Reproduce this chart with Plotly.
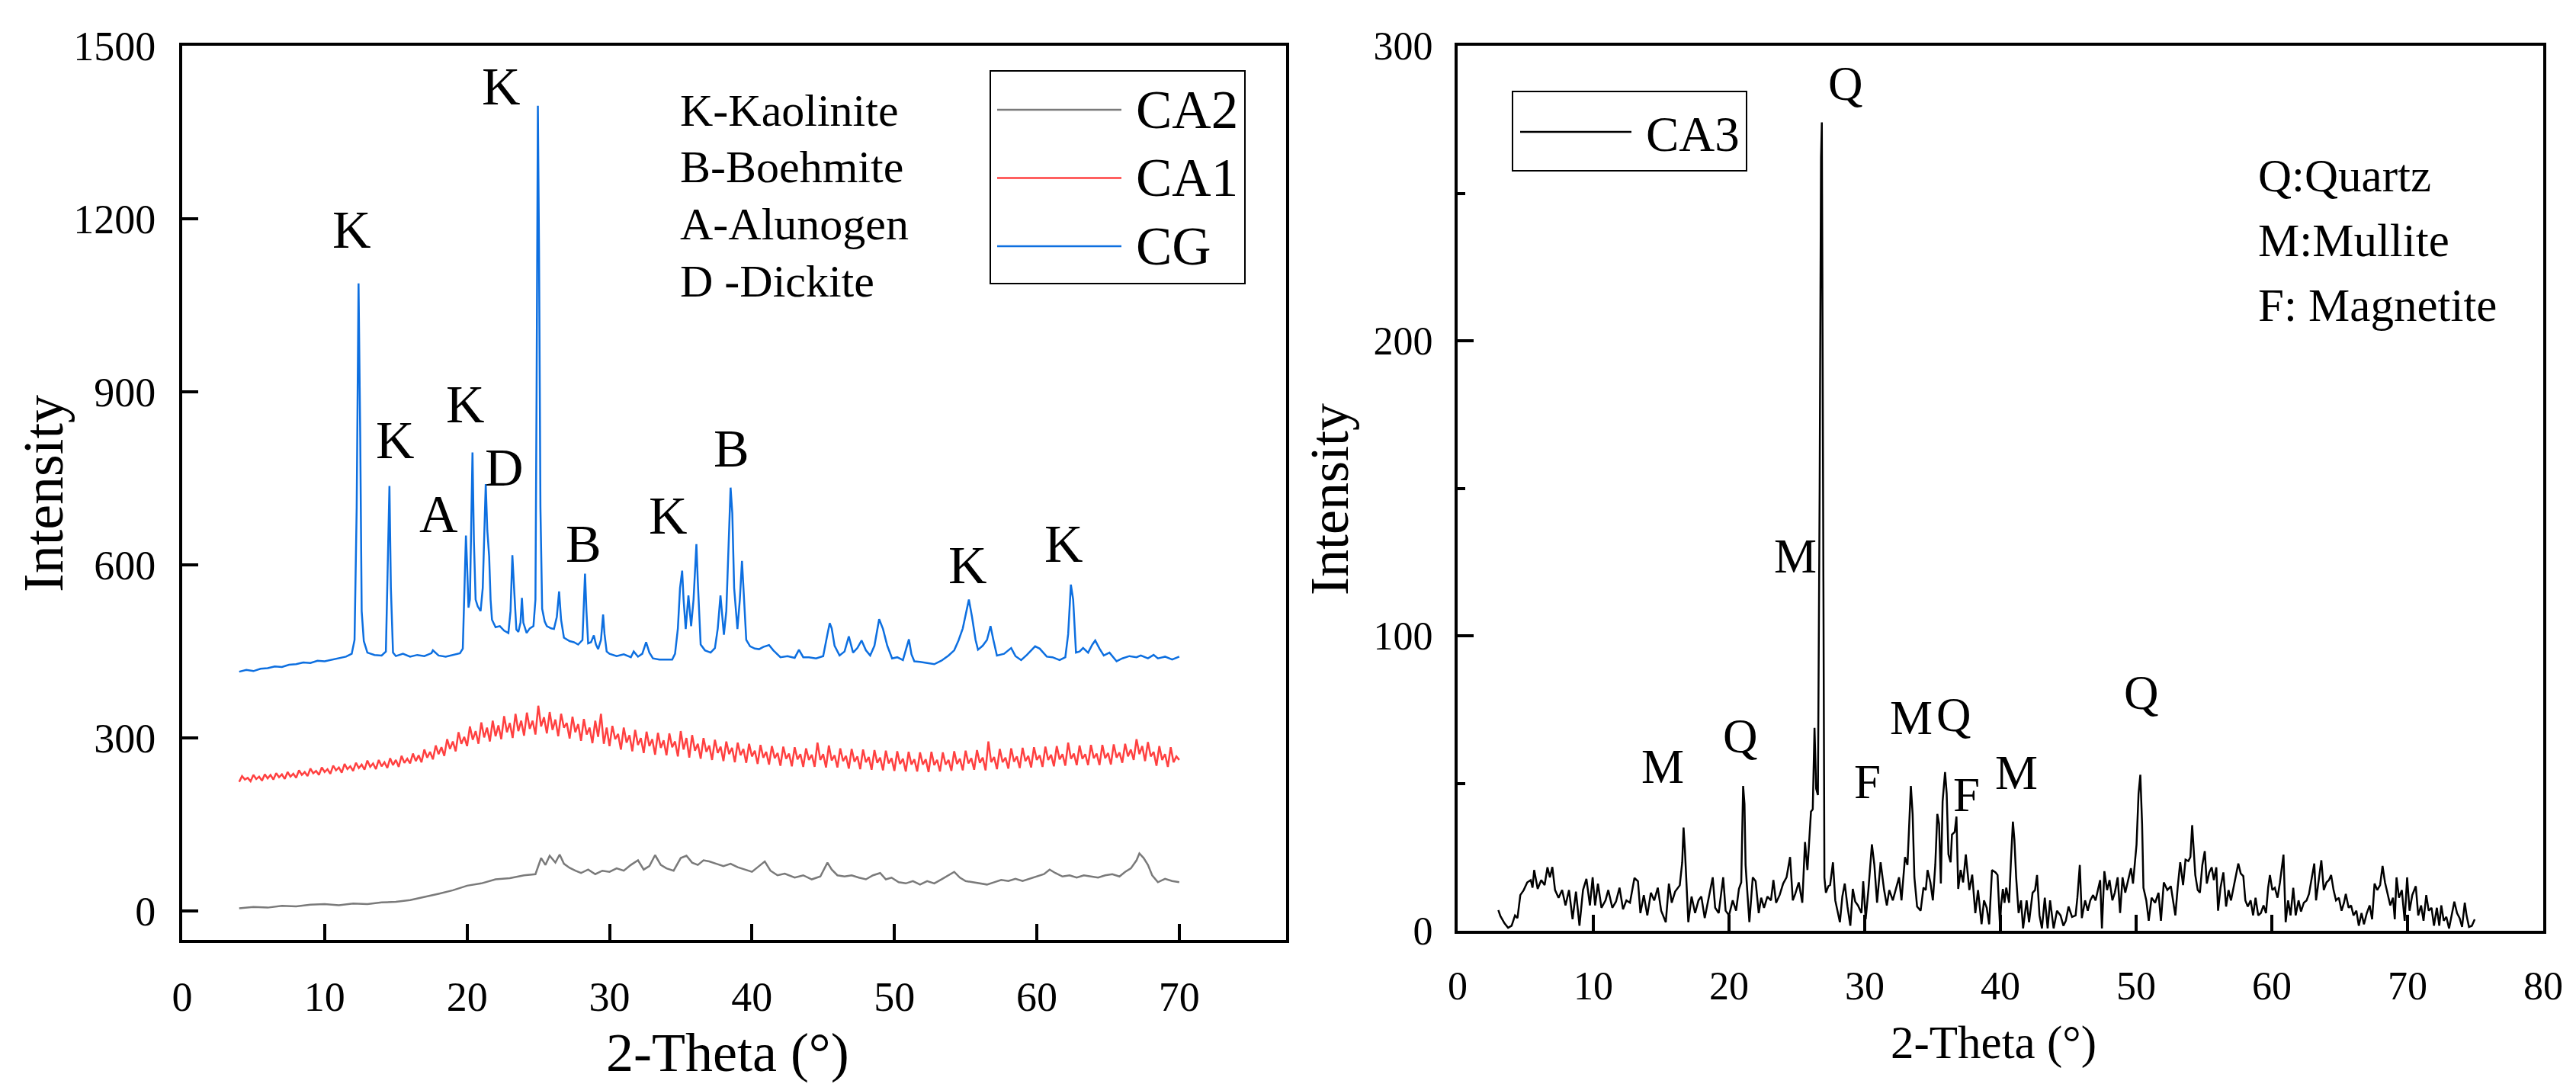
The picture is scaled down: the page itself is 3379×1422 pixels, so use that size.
import numpy as np
import plotly.graph_objects as go

# ---------------- data ----------------
# left panel: CG (blue), CA1 (red), CA2 (grey)
cg_xy = [
    (4.0, 415), (4.5, 418), (5.0, 416), (5.5, 420), (6.0, 421), (6.5, 424), (7.0, 423), (7.5, 427),
    (8.0, 428), (8.5, 431), (9.0, 430), (9.5, 434), (10.0, 433), (10.5, 436), (11.0, 438), (11.5, 441),
    (11.9, 446), (12.1, 470), (12.25, 700), (12.38, 1088), (12.5, 820), (12.6, 520), (12.75, 468),
    (13.0, 448), (13.5, 444), (14.0, 443), (14.3, 450), (14.45, 600), (14.55, 737), (14.65, 560),
    (14.8, 448), (15.0, 442), (15.5, 446), (16.0, 441), (16.5, 444), (17.0, 442), (17.5, 447),
    (17.6, 452), (18.0, 443), (18.5, 441), (19.0, 444), (19.5, 447), (19.7, 455), (19.8, 560),
    (19.92, 651), (20.0, 600), (20.1, 526), (20.2, 540), (20.3, 700), (20.38, 795), (20.48, 640),
    (20.6, 540), (20.75, 528), (20.95, 520), (21.1, 560), (21.25, 700), (21.31, 740), (21.42, 660),
    (21.55, 615), (21.65, 540), (21.75, 505), (22.0, 492), (22.3, 494), (22.6, 486), (22.9, 482),
    (23.05, 520), (23.18, 617), (23.3, 560), (23.46, 488), (23.6, 484), (23.75, 500), (23.85, 543),
    (23.95, 500), (24.18, 482), (24.4, 490), (24.66, 494), (24.8, 540), (24.88, 900), (24.97, 1396),
    (25.05, 1150), (25.15, 700), (25.27, 524), (25.45, 502), (25.6, 494), (25.9, 490), (26.1, 489),
    (26.3, 510), (26.46, 554), (26.6, 505), (26.8, 474), (27.2, 468), (27.5, 466), (27.8, 462),
    (28.1, 470), (28.2, 540), (28.28, 585), (28.38, 520), (28.5, 464), (28.7, 466), (28.9, 478),
    (29.05, 462), (29.2, 454), (29.4, 470), (29.55, 514), (29.65, 480), (29.8, 450), (30.0, 446),
    (30.5, 442), (31.0, 445), (31.5, 440), (31.7, 450), (32.0, 441), (32.3, 446), (32.57, 466),
    (32.8, 448), (33.05, 438), (33.5, 436), (34.0, 436), (34.4, 436), (34.6, 446), (34.8, 490),
    (34.95, 560), (35.1, 590), (35.2, 540), (35.35, 489), (35.54, 547), (35.73, 494), (35.9, 540),
    (36.02, 610), (36.1, 636), (36.2, 570), (36.4, 462), (36.7, 452), (37.1, 448), (37.4, 456),
    (37.6, 490), (37.79, 547), (37.9, 510), (38.03, 479), (38.2, 520), (38.35, 640), (38.5, 734),
    (38.62, 690), (38.75, 560), (38.98, 489), (39.15, 540), (39.3, 607), (39.45, 540), (39.6, 470),
    (39.87, 459), (40.2, 455), (40.5, 454), (40.8, 458), (41.2, 461), (41.5, 452), (42.0, 440),
    (42.5, 442), (43.0, 439), (43.3, 453), (43.6, 440), (44.0, 440), (44.5, 438), (45.0, 442),
    (45.3, 480), (45.46, 499), (45.6, 490), (45.8, 460), (46.15, 443), (46.5, 450), (46.8, 476),
    (47.1, 448), (47.4, 456), (47.7, 469), (48.0, 452), (48.3, 443), (48.6, 460), (48.93, 506),
    (49.2, 489), (49.5, 460), (49.84, 438), (50.2, 440), (50.6, 435), (50.85, 455), (51.02, 471),
    (51.2, 445), (51.4, 433), (51.8, 432), (52.3, 430), (52.8, 428), (53.3, 434), (53.8, 443),
    (54.2, 452), (54.5, 469), (54.8, 490), (55.0, 515), (55.23, 540), (55.45, 510), (55.7, 470),
    (55.87, 453), (56.2, 460), (56.5, 470), (56.75, 494), (56.95, 470), (57.2, 443), (57.7, 446),
    (58.2, 456), (58.5, 442), (58.9, 435), (59.3, 444), (59.6, 452), (59.88, 459), (60.2, 455),
    (60.7, 441), (61.1, 440), (61.6, 435), (62.0, 440), (62.2, 480), (62.39, 566), (62.55, 540),
    (62.75, 448), (63.0, 450), (63.25, 456), (63.6, 448), (63.9, 462), (64.1, 469), (64.4, 455),
    (64.7, 443), (65.1, 448), (65.6, 433), (66.0, 438), (66.5, 442), (67.0, 440), (67.3, 443),
    (67.8, 438), (68.2, 444), (68.5, 438), (69.0, 441), (69.5, 436), (70.0, 441),
]

# CA1 sampled every 0.2 degree from 4.0 to 70.0
ca1_x = np.round(np.arange(4.0, 70.001, 0.2), 1)
ca1_y = [
    224, 234, 228, 231, 225, 236, 229, 233, 226, 237,
    230, 236, 228, 239, 232, 237, 229, 241, 233, 238,
    231, 244, 236, 241, 234, 247, 239, 243, 236, 249,
    241, 246, 238, 252, 244, 249, 240, 255, 246, 251,
    243, 257, 248, 254, 245, 261, 250, 256, 246, 262,
    251, 258, 248, 265, 253, 262, 250, 269, 257, 264,
    256, 273, 260, 270, 258, 280, 266, 276, 263, 287,
    272, 284, 269, 298, 281, 294, 277, 310, 290, 302,
    286, 320, 297, 312, 290, 327, 301, 318, 294, 330,
    303, 322, 298, 338, 310, 326, 300, 342, 312, 330,
    304, 344, 316, 330, 306, 356, 320, 336, 308, 345,
    314, 332, 303, 342, 318, 326, 299, 337, 310, 324,
    295, 333, 306, 318, 291, 330, 302, 342, 290, 318,
    286, 321, 298, 307, 280, 318, 292, 305, 277, 314,
    288, 300, 274, 311, 286, 298, 271, 309, 283, 296,
    270, 308, 284, 294, 268, 312, 280, 300, 266, 305,
    278, 290, 264, 300, 276, 287, 262, 297, 274, 285,
    260, 294, 272, 283, 258, 292, 270, 281, 257, 290,
    268, 278, 255, 288, 266, 276, 254, 286, 265, 274,
    252, 285, 264, 273, 251, 284, 263, 272, 250, 282,
    262, 271, 250, 292, 262, 272, 249, 287, 261, 270,
    249, 282, 260, 269, 247, 281, 259, 268, 246, 280,
    258, 267, 245, 279, 257, 266, 244, 278, 256, 265,
    243, 277, 255, 264, 242, 276, 254, 263, 242, 275,
    254, 263, 241, 276, 253, 262, 242, 275, 254, 262,
    243, 277, 255, 264, 244, 278, 256, 265, 245, 279,
    257, 266, 244, 294, 258, 267, 246, 281, 258, 266,
    247, 282, 259, 268, 248, 283, 260, 269, 249, 284,
    262, 270, 250, 285, 262, 271, 251, 286, 263, 272,
    252, 292, 264, 273, 253, 287, 264, 272, 253, 288,
    265, 273, 253, 288, 265, 274, 254, 289, 266, 275,
    257, 290, 268, 280, 262, 298, 272, 286, 260, 293,
    268, 276, 252, 286, 262, 272, 250, 284, 258, 268,
    262,
]

ca2_xy = [
    (4, 5), (5, 7), (6, 6), (7, 9), (8, 8), (9, 11), (10, 12), (11, 10), (12, 13), (13, 12),
    (14, 15), (15, 16), (16, 19), (17, 24), (18, 30), (19, 36), (20, 44), (21, 48), (22, 55), (23, 57),
    (24, 62), (24.8, 64), (25.2, 92), (25.5, 80), (25.8, 96), (26.2, 84), (26.5, 98), (26.8, 82),
    (27.2, 75), (27.6, 70), (28, 66), (28.5, 72), (29, 64), (29.5, 70), (30, 68), (30.5, 74),
    (31, 70), (31.5, 80), (32, 88), (32.4, 72), (32.8, 78), (33.2, 97), (33.6, 80), (34, 74),
    (34.5, 70), (35, 92), (35.4, 96), (35.8, 84), (36.2, 80), (36.6, 88), (37, 86), (37.5, 82),
    (38, 78), (38.5, 82), (39, 76), (39.5, 72), (40, 68), (40.5, 78), (40.9, 86), (41.3, 70),
    (41.8, 62), (42.3, 65), (43, 58), (43.6, 62), (44.2, 55), (44.8, 60), (45.3, 84), (45.6, 72),
    (46, 62), (46.5, 60), (47, 62), (47.5, 58), (48, 55), (48.5, 62), (49, 66), (49.4, 55),
    (49.8, 58), (50.3, 50), (50.8, 48), (51.3, 52), (51.8, 46), (52.3, 52), (52.8, 48), (53.3, 55),
    (53.8, 62), (54.2, 68), (54.6, 58), (55, 52), (55.5, 50), (56, 48), (56.5, 46), (57, 50),
    (57.5, 54), (58, 52), (58.5, 56), (59, 52), (59.5, 56), (60, 60), (60.5, 64), (60.9, 72),
    (61.3, 66), (61.8, 60), (62.3, 62), (62.8, 58), (63.3, 62), (63.8, 60), (64.3, 58), (64.8, 62),
    (65.3, 64), (65.8, 60), (66.2, 68), (66.6, 74), (67.0, 88), (67.2, 100), (67.5, 92), (67.8, 80),
    (68.1, 62), (68.5, 50), (69, 56), (69.5, 52), (70, 50),
]

# right panel: CA3 (black)
ca3_xy = [
    (3.0, 7.0), (3.15, 5.0), (3.46, 2.5), (3.72, 1.0), (3.98, 1.7), (4.23, 5.2), (4.41, 4.3),
    (4.62, 12.1), (4.87, 13.8), (5.13, 16.4), (5.39, 17.2), (5.52, 14.6), (5.64, 20.6), (5.9, 14.2),
    (6.16, 17.2), (6.41, 15.5), (6.62, 21.5), (6.8, 18.1), (6.98, 21.6), (7.18, 13.8), (7.44, 11.2),
    (7.7, 13.8), (7.95, 8.6), (8.21, 13.8), (8.47, 3.9), (8.72, 13.3), (8.98, 1.7), (9.24, 13.8),
    (9.49, 17.6), (9.75, 8.6), (9.95, 18.1), (10.13, 8.6), (10.34, 16.0), (10.6, 7.8), (10.9, 10.3),
    (11.1, 13.8), (11.4, 7.8), (11.67, 9.9), (11.93, 14.6), (12.19, 7.3), (12.44, 10.3), (12.7, 9.5),
    (13.03, 17.9), (13.29, 16.8), (13.47, 6.0), (13.72, 12.1), (13.98, 5.2), (14.24, 12.9),
    (14.49, 10.3), (14.75, 14.6), (15.0, 6.8), (15.34, 2.9), (15.57, 16.0), (15.78, 9.5),
    (16.03, 13.3), (16.37, 15.4), (16.55, 23.2), (16.65, 35.0), (16.75, 27.4), (16.85, 16.0),
    (17.0, 2.9), (17.24, 11.6), (17.5, 6.0), (17.75, 10.3), (17.96, 11.6), (18.21, 4.3),
    (18.47, 10.3), (18.8, 18.1), (18.98, 7.8), (19.24, 6.0), (19.57, 18.1), (19.75, 6.8),
    (20.0, 5.2), (20.27, 10.3), (20.52, 6.8), (20.73, 14.2), (20.9, 16.4), (21.04, 49.1),
    (21.14, 43.0), (21.22, 22.3), (21.34, 13.8), (21.5, 2.9), (21.75, 18.1), (21.96, 16.8),
    (22.19, 6.0), (22.37, 11.2), (22.58, 7.8), (22.83, 11.6), (23.09, 10.3), (23.27, 17.2),
    (23.47, 9.5), (23.73, 12.1), (23.99, 16.0), (24.24, 18.1), (24.5, 25.0), (24.7, 10.3),
    (24.88, 12.5), (25.14, 16.4), (25.4, 9.5), (25.6, 30.1), (25.78, 20.6), (26.04, 40.4),
    (26.17, 41.2), (26.3, 68.8), (26.42, 48.2), (26.55, 46.0), (26.68, 150.0), (26.78, 262.0),
    (26.84, 274.0), (26.9, 200.0), (26.95, 110.0), (27.03, 18.0), (27.14, 12.9), (27.32, 15.1),
    (27.45, 15.5), (27.66, 23.2), (27.83, 10.3), (28.01, 6.0), (28.17, 2.9), (28.35, 11.6),
    (28.53, 16.0), (28.73, 8.2), (28.94, 1.7), (29.12, 14.2), (29.3, 9.9), (29.5, 8.6),
    (29.76, 6.0), (29.89, 16.8), (30.07, 3.9), (30.27, 13.8), (30.53, 29.3), (30.71, 22.3),
    (30.91, 9.5), (31.17, 23.2), (31.43, 13.8), (31.63, 8.6), (31.81, 13.8), (32.07, 10.3),
    (32.27, 13.8), (32.53, 18.1), (32.71, 10.3), (32.97, 25.0), (33.15, 22.3), (33.4, 49.1),
    (33.53, 39.6), (33.66, 18.1), (33.86, 8.2), (34.12, 6.8), (34.33, 14.6), (34.5, 13.8),
    (34.63, 20.6), (34.84, 16.4), (35.02, 10.3), (35.2, 22.3), (35.35, 39.6), (35.48, 36.2),
    (35.61, 16.0), (35.74, 43.9), (35.92, 53.8), (36.04, 46.5), (36.17, 25.9), (36.33, 23.2),
    (36.43, 32.6), (36.63, 33.5), (36.76, 38.7), (36.89, 14.2), (37.07, 20.6), (37.25, 16.4),
    (37.45, 25.9), (37.71, 13.8), (37.92, 19.0), (38.15, 6.0), (38.35, 13.8), (38.61, 2.2),
    (38.79, 10.3), (38.99, 7.8), (39.17, 2.2), (39.38, 20.6), (39.64, 19.8), (39.79, 18.9),
    (39.97, 1.7), (40.05, 8.6), (40.18, 14.2), (40.3, 9.5), (40.43, 14.6), (40.64, 9.5),
    (40.77, 23.2), (40.92, 37.0), (41.03, 30.9), (41.16, 18.1), (41.34, 6.0), (41.52, 10.3),
    (41.67, 0.8), (41.93, 10.3), (42.11, 2.9), (42.37, 12.9), (42.55, 13.8), (42.7, 18.9),
    (42.88, 5.2), (43.06, 0.8), (43.27, 11.2), (43.48, 0.8), (43.66, 10.3), (43.92, 0.8),
    (44.17, 6.8), (44.43, 5.2), (44.64, 1.7), (44.82, 3.4), (45.02, 8.2), (45.28, 4.7),
    (45.54, 5.2), (45.67, 11.2), (45.85, 22.3), (46.0, 4.3), (46.24, 10.3), (46.44, 6.8),
    (46.62, 10.3), (46.83, 12.1), (47.01, 10.3), (47.19, 13.8), (47.35, 17.2), (47.48, 0.8),
    (47.66, 20.2), (47.86, 13.8), (48.04, 17.2), (48.25, 10.3), (48.43, 12.9), (48.64, 18.1),
    (48.82, 6.0), (49.0, 18.1), (49.2, 12.9), (49.46, 18.1), (49.62, 21.2), (49.77, 16.0),
    (49.93, 23.2), (50.03, 29.2), (50.18, 46.5), (50.31, 52.9), (50.44, 36.2), (50.54, 14.6),
    (50.75, 10.3), (50.93, 3.4), (51.14, 11.2), (51.4, 9.5), (51.65, 12.9), (51.83, 3.4),
    (52.04, 16.4), (52.3, 13.8), (52.56, 15.1), (52.74, 9.9), (52.89, 5.2), (53.07, 15.1),
    (53.25, 23.2), (53.46, 15.5), (53.64, 24.1), (53.85, 23.6), (54.0, 25.0), (54.13, 35.8),
    (54.23, 29.2), (54.36, 18.9), (54.54, 13.8), (54.7, 12.9), (54.88, 22.3), (55.06, 27.0),
    (55.21, 16.0), (55.39, 19.8), (55.57, 21.5), (55.73, 17.2), (55.91, 21.5), (56.04, 6.8),
    (56.22, 14.6), (56.43, 19.8), (56.63, 8.2), (56.81, 13.8), (56.99, 10.3), (57.2, 15.5),
    (57.4, 20.6), (57.53, 22.8), (57.71, 19.4), (57.9, 18.5), (58.05, 10.3), (58.23, 8.2),
    (58.44, 10.3), (58.62, 5.2), (58.8, 11.2), (59.0, 5.2), (59.19, 6.0), (59.39, 8.6),
    (59.57, 6.0), (59.73, 14.6), (59.86, 18.9), (60.04, 13.8), (60.22, 14.6), (60.42, 11.2),
    (60.6, 16.4), (60.76, 21.5), (60.86, 25.8), (61.02, 2.9), (61.2, 10.3), (61.38, 5.2),
    (61.58, 14.6), (61.76, 5.2), (61.97, 10.3), (62.15, 6.5), (62.36, 9.5), (62.56, 10.3),
    (62.74, 12.5), (62.95, 18.1), (63.13, 22.8), (63.26, 10.3), (63.44, 17.2), (63.65, 23.9),
    (63.83, 13.8), (64.03, 16.4), (64.21, 17.2), (64.37, 18.9), (64.55, 13.8), (64.73, 10.3),
    (64.94, 11.2), (65.14, 6.8), (65.32, 9.5), (65.45, 12.5), (65.66, 7.8), (65.84, 8.6),
    (66.02, 5.2), (66.23, 6.8), (66.41, 1.7), (66.61, 6.0), (66.79, 2.2), (67.0, 6.0),
    (67.21, 8.6), (67.39, 3.9), (67.57, 16.0), (67.77, 13.8), (67.98, 15.5), (68.16, 22.0),
    (68.34, 16.4), (68.55, 12.1), (68.73, 8.6), (68.93, 11.2), (69.06, 3.9), (69.19, 18.1),
    (69.37, 11.2), (69.58, 13.8), (69.79, 3.4), (69.97, 18.1), (70.15, 6.8), (70.35, 12.1),
    (70.61, 15.1), (70.79, 5.2), (71.0, 8.6), (71.18, 3.4), (71.38, 12.1), (71.56, 6.8),
    (71.77, 7.8), (71.95, 1.7), (72.16, 7.8), (72.34, 1.7), (72.49, 8.6), (72.67, 3.4),
    (72.86, 4.7), (73.06, 0.8), (73.27, 6.0), (73.45, 9.9), (73.65, 6.0), (73.84, 4.3),
    (74.02, 1.3), (74.22, 9.5), (74.35, 5.2), (74.53, 1.3), (74.74, 1.7), (74.95, 3.9),
]

# peak labels (text, 2-theta, intensity)
left_peaks = [("K", 11.9, 1181), ("K", 14.96, 816), ("A", 18.03, 688), ("K", 19.87, 878),
              ("D", 22.62, 769), ("K", 22.4, 1429), ("B", 28.2, 636), ("K", 34.12, 686),
              ("B", 38.55, 802), ("K", 55.13, 600), ("K", 61.9, 636)]
left_key = ["K-Kaolinite", "B-Boehmite", "A-Alunogen", "D -Dickite"]
left_key_y = [1388, 1290, 1191, 1092]

right_peaks = [("Q", 28.6, 287), ("M", 24.9, 127), ("M", 15.14, 55.5), ("Q", 20.86, 66),
               ("F", 30.2, 50.5), ("M", 33.4, 72), ("Q", 36.56, 73), ("F", 37.5, 46),
               ("M", 41.2, 53.5), ("Q", 50.37, 80.5)]
right_key = ["Q:Quartz", "M:Mullite", "F: Magnetite"]
right_key_y = [256, 234, 212]

series_names = ["CA2", "CA1", "CG"]
series_colors = ["#7a7a7a", "#ff4040", "#0d6fe0"]

# ---------------- figure ----------------
W, H = 3379, 1422
FONT = "Liberation Serif"


def fx(p):
    return p / W


def fy(p):
    return 1 - p / H


def txt(text, x, y, size, xref="paper", yref="paper", xanchor="center", angle=0):
    return dict(text=text, x=x, y=y, xref=xref, yref=yref, xanchor=xanchor, yanchor="middle",
                textangle=angle, showarrow=False, font=dict(family=FONT, size=size, color="black"))


fig = go.Figure()

cg_x, cg_y = zip(*cg_xy)
ca2_x, ca2_y = zip(*ca2_xy)
ca3_x, ca3_y = zip(*ca3_xy)

fig.add_trace(go.Scatter(x=ca2_x, y=ca2_y, mode="lines", name="CA2",
                         line=dict(color=series_colors[0], width=2.5), xaxis="x", yaxis="y"))
fig.add_trace(go.Scatter(x=ca1_x, y=ca1_y, mode="lines", name="CA1",
                         line=dict(color=series_colors[1], width=2.5), xaxis="x", yaxis="y"))
fig.add_trace(go.Scatter(x=cg_x, y=cg_y, mode="lines", name="CG",
                         line=dict(color=series_colors[2], width=2.5), xaxis="x", yaxis="y"))
fig.add_trace(go.Scatter(x=ca3_x, y=ca3_y, mode="lines", name="CA3",
                         line=dict(color="black", width=2.5), xaxis="x2", yaxis="y2"))

axis_common = dict(showline=True, mirror=True, linecolor="black", linewidth=4,
                   ticks="inside", ticklen=21, tickwidth=4, tickcolor="black",
                   showgrid=False, zeroline=False, automargin=False,
                   tickfont=dict(family=FONT, size=54, color="black"))

fig.update_layout(
    width=W, height=H,
    margin=dict(l=0, r=0, t=0, b=0, autoexpand=False),
    paper_bgcolor="white", plot_bgcolor="white",
    showlegend=False,
    xaxis=dict(axis_common, domain=[fx(231), fx(1679)], range=[0, 77.5],
               tickvals=[0, 10, 20, 30, 40, 50, 60, 70], ticklabelstandoff=24, anchor="y"),
    yaxis=dict(axis_common, domain=[fy(1225), fy(52)], range=[-50, 1500],
               tickvals=[0, 300, 600, 900, 1200, 1500], ticklabelstandoff=20, anchor="x"),
    xaxis2=dict(axis_common, domain=[fx(1904), fx(3328)], range=[0, 80], dtick=10,
                ticklabelstandoff=24, anchor="y2",
                tickfont=dict(family=FONT, size=52, color="black")),
    yaxis2=dict(axis_common, domain=[fy(1213), fy(52)], range=[0, 300], dtick=100,
                ticklabelstandoff=18, anchor="x2",
                tickfont=dict(family=FONT, size=52, color="black"),
                minor=dict(ticks="inside", ticklen=10, tickwidth=4, tickcolor="black", dtick=50)),
)

ann = []
# axis titles
ann.append(txt("Intensity", fx(49), fy(640), 74, angle=-90))
ann.append(txt("2-Theta (°)", fx(946), fy(1373), 72))
ann.append(txt("Intensity", fx(1736), fy(647), 72, angle=-90))
ann.append(txt("2-Theta (°)", fx(2607), fy(1360), 61))

for t, px_, py_ in left_peaks:
    ann.append(txt(t, px_, py_, 70, xref="x", yref="y"))
for t, yy in zip(left_key, left_key_y):
    ann.append(txt(t, 34.85, yy, 60, xref="x", yref="y", xanchor="left"))
for t, px_, py_ in right_peaks:
    ann.append(txt(t, px_, py_, 63, xref="x2", yref="y2"))
for t, yy in zip(right_key, right_key_y):
    ann.append(txt(t, 58.9, yy, 61, xref="x2", yref="y2", xanchor="left"))

# hand-drawn legends (long line samples like the original)
shapes = []
shapes.append(dict(type="rect", xref="paper", yref="paper", x0=fx(1291), x1=fx(1625),
                   y0=fy(364), y1=fy(85), line=dict(color="black", width=2)))
for i, (nm, col) in enumerate(zip(series_names, series_colors)):
    yy = 136 + 89.5 * i
    shapes.append(dict(type="line", xref="paper", yref="paper", x0=fx(1300), x1=fx(1463),
                       y0=fy(yy), y1=fy(yy), line=dict(color=col, width=2.5)))
    ann.append(txt(nm, fx(1480), fy(yy), 71, xanchor="left"))

shapes.append(dict(type="rect", xref="paper", yref="paper", x0=fx(1976), x1=fx(2283),
                   y0=fy(216), y1=fy(112), line=dict(color="black", width=2)))
shapes.append(dict(type="line", xref="paper", yref="paper", x0=fx(1986), x1=fx(2132),
                   y0=fy(165), y1=fy(165), line=dict(color="black", width=2.5)))
ann.append(txt("CA3", fx(2149), fy(168), 65, xanchor="left"))

fig.update_layout(annotations=ann, shapes=shapes)

fig.write_html("out.html")
